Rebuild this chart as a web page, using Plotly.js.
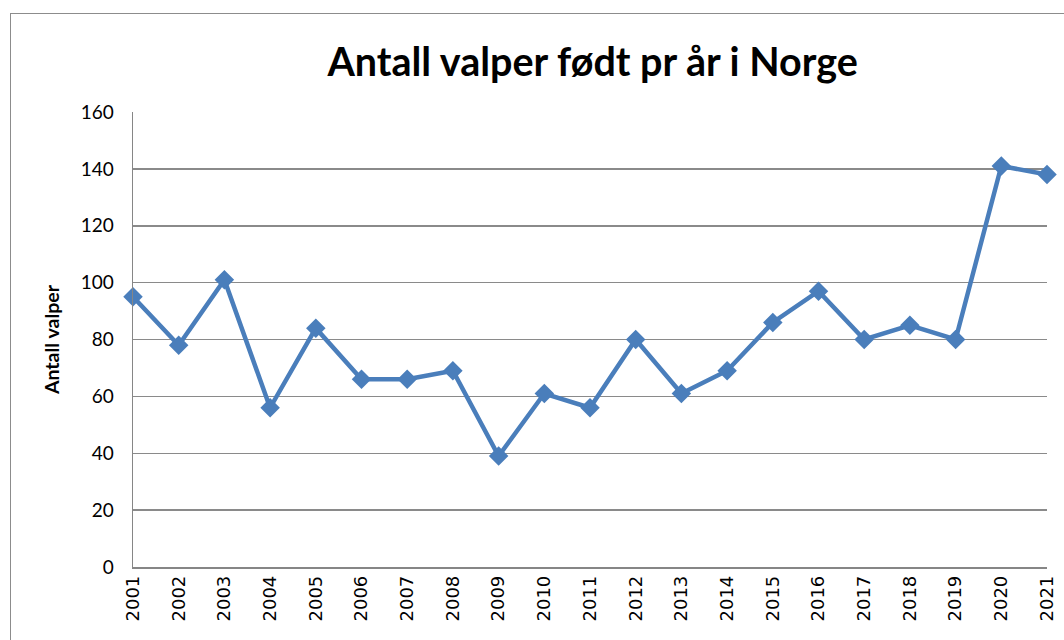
<!DOCTYPE html>
<html>
<head>
<meta charset="utf-8">
<script src="https://cdn.plot.ly/plotly-3.0.1.min.js"></script>
<style>
html,body{margin:0;padding:0;background:#fff;overflow:hidden;}
#frame{position:absolute;left:10px;top:13px;width:1200px;height:800px;border:1px solid #8c8c8c;}
#chart{position:absolute;left:0;top:0;width:1064px;height:640px;}
</style>
</head>
<body>
<div id="frame"></div>
<div id="chart"></div>
<script>
const years = [2001,2002,2003,2004,2005,2006,2007,2008,2009,2010,2011,2012,2013,2014,2015,2016,2017,2018,2019,2020,2021];
const valper = [95,78,101,56,84,66,66,69,39,61,56,80,61,69,86,97,80,85,80,141,138];
const yTicks = [0,20,40,60,80,100,120,140,160];

const trace = {
  x: years.map(String),
  y: valper,
  type: 'scatter',
  mode: 'lines+markers',
  line: {color: '#4A7EBB', width: 4.5},
  marker: {symbol: 'diamond', size: 15, color: '#4A7EBB'},
  cliponaxis: false,
  hoverinfo: 'x+y'
};

const layout = {
  width: 1064, height: 640,
  margin: {l: 133, r: 17, t: 112, b: 73},
  paper_bgcolor: 'rgba(0,0,0,0)',
  plot_bgcolor: 'rgba(0,0,0,0)',
  showlegend: false,
  title: {
    text: '<b>Antall valper født pr år i Norge</b>',
    font: {family: 'Lato, "Open Sans", sans-serif', size: 39.5, color: '#000'},
    x: 0.557, xanchor: 'center', y: 0.903, yanchor: 'middle'
  },
  xaxis: {
    type: 'category',
    range: [0, 20],
    tickangle: -90,
    showgrid: false,
    showline: true, linecolor: '#868686', linewidth: 1.5,
    ticks: '',
    tickfont: {family: '"DejaVu Sans", sans-serif', size: 18, color: '#000'},
    fixedrange: true
  },
  yaxis: {
    range: [0, 160],
    tickvals: yTicks,
    ticktext: yTicks.map(String),
    showgrid: true, gridcolor: '#8a8a8a', gridwidth: 1.5,
    showline: true, linecolor: '#868686', linewidth: 1.5,
    zeroline: false,
    ticks: '',
    ticklabelstandoff: 14,
    tickfont: {family: 'Lato, "Open Sans", sans-serif', size: 19, color: '#000'},
    title: {
      text: '<b>Antall valper</b>',
      font: {family: 'Lato, "Open Sans", sans-serif', size: 19.5, color: '#000'},
      standoff: 16
    },
    fixedrange: true
  }
};

Plotly.newPlot('chart', [trace], layout, {displayModeBar: false, staticPlot: true});
</script>
</body>
</html>
